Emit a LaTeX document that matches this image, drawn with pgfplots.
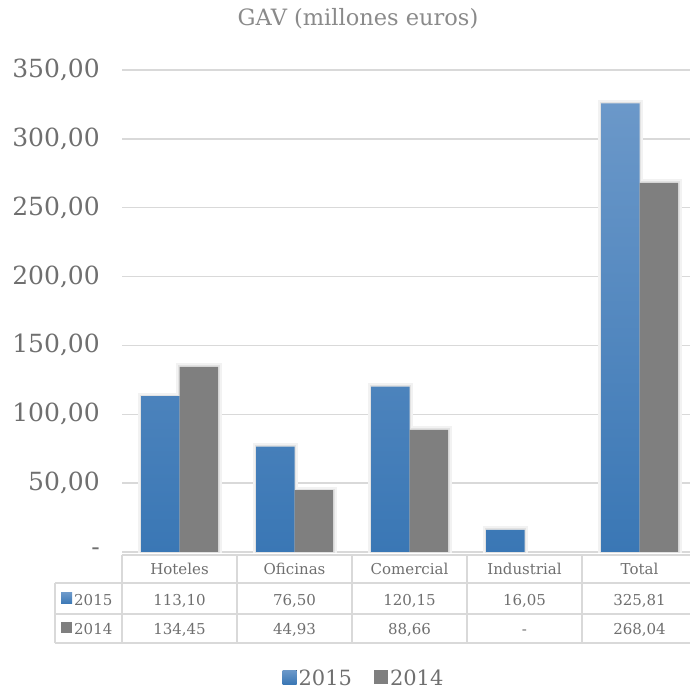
\documentclass[border=0pt]{standalone}
\usepackage{fontspec}
\setmainfont{DejaVu Serif}
\usepackage{pgfplots}
\pgfplotsset{compat=1.18}
\definecolor{gridc}{HTML}{D9D9D9}
\definecolor{bluetop}{HTML}{6B98C9}
\definecolor{bluebot}{HTML}{3A77B5}
\definecolor{barg}{HTML}{7F7F7F}
\definecolor{txt}{HTML}{6F6F6F}
\definecolor{ttl}{HTML}{8A8A8A}
\definecolor{shadA}{HTML}{F2F2F2}
\definecolor{shadB}{HTML}{E2E2E2}
\pgfplotstableread{
x y2015 y2014
0 113.10 134.45
1 76.50 44.93
2 120.15 88.66
3 16.05 nan
4 325.81 268.04
}\gavdata
\begin{document}
\begin{tikzpicture}[x=1pt,y=1pt]
\useasboundingbox (0,0) rectangle (689,692);
\begin{axis}[
  at={(122pt,140pt)}, anchor=south west,
  scale only axis, width=575pt, height=482pt,
  xmin=-0.5, xmax=4.5, ymin=0, ymax=350,
  axis line style={draw=none},
  ytick={0,50,100,150,200,250,300,350},
  yticklabels={{-},{50,00},{100,00},{150,00},{200,00},{250,00},{300,00},{350,00}},
  xtick=\empty,
  ymajorgrids, grid style={gridc, line width=1.3pt},
  major tick length=0pt,
  yticklabel style={font=\fontsize{25}{25}\selectfont, text=txt, anchor=east, inner sep=0pt, xshift=-22pt},
  ybar=0pt, bar width=38.5pt,
  clip=false, unbounded coords=discard,
  title={GAV (millones euros)},
  title style={at={(0.4104,1.094)}, anchor=center, yshift=0pt, font=\fontsize{22.5}{22.5}\selectfont, text=ttl},
  legend style={at={(0.4209,-0.262)}, anchor=center, draw=none, fill=none,
    legend columns=2, font=\fontsize{21}{21}\selectfont, text=txt,
    /tikz/every even column/.append style={column sep=20pt}},
  legend image code/.code={\fill[#1] (0pt,-6pt) rectangle (14pt,8pt);},
]
% soft shadows (drawn first)
\addplot[forget plot, bar shift=-19.25pt, fill=none, draw=shadA, line width=7pt]
  table[x=x, y=y2015] {\gavdata};
\addplot[forget plot, bar shift=19.25pt, fill=none, draw=shadA, line width=7pt]
  table[x=x, y=y2014] {\gavdata};
\addplot[forget plot, bar shift=-19.25pt, fill=none, draw=shadB, line width=3pt]
  table[x=x, y=y2015] {\gavdata};
\addplot[forget plot, bar shift=19.25pt, fill=none, draw=shadB, line width=3pt]
  table[x=x, y=y2014] {\gavdata};
% bars
\addplot[bar shift=-19.25pt, draw=none, top color=bluetop, bottom color=bluebot]
  table[x=x, y=y2015] {\gavdata};
\addplot[bar shift=19.25pt, draw=none, fill=barg]
  table[x=x, y=y2014] {\gavdata};
\legend{2015,2014}
\end{axis}
% data table
\fill[white] (105,139) rectangle (697,130);
\begin{scope}[gridc, line width=1.3pt]
\draw (122,137) -- (697,137);
\draw (55,109) -- (697,109);
\draw (55,78) -- (697,78);
\draw (55,49) -- (697,49);
\draw (55,109) -- (55,49);
\foreach \x in {122,237,352,467,582,697} \draw (\x,137) -- (\x,49);
\end{scope}
\begin{scope}[every node/.style={font=\fontsize{15}{15}\selectfont, text=txt, anchor=base, inner sep=0pt}]
\node at (179.5,117) {Hoteles};
\node at (294.5,117) {Oficinas};
\node at (409.5,117) {Comercial};
\node at (524.5,117) {Industrial};
\node at (639.5,117) {Total};
\node at (179.5,86) {113,10};
\node at (294.5,86) {76,50};
\node at (409.5,86) {120,15};
\node at (524.5,86) {16,05};
\node at (639.5,86) {325,81};
\node at (179.5,57) {134,45};
\node at (294.5,57) {44,93};
\node at (409.5,57) {88,66};
\node at (524.5,57) {-};
\node at (639.5,57) {268,04};
\node[anchor=base west] at (74,86) {2015};
\node[anchor=base west] at (74,57) {2014};
\end{scope}
\fill[top color=bluetop, bottom color=bluebot] (61,88) rectangle (72,99);
\fill[barg] (61,59) rectangle (72,70);
\end{tikzpicture}
\end{document}
